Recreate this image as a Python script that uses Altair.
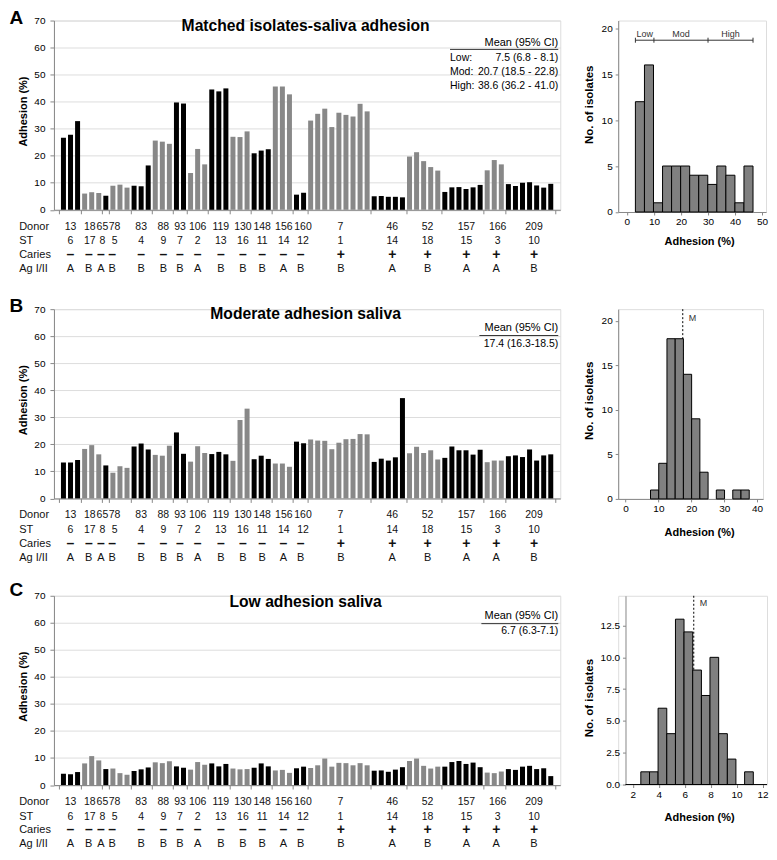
import altair as alt
import pandas as pd

# ---------------- data ----------------
donors = ["13", "18", "65", "78", "83", "88", "93", "106", "119", "130",
          "148", "156", "160", "7", "46", "52", "157", "166", "209"]
st_types = ["6", "17", "8", "5", "4", "9", "7", "2", "13", "16",
            "11", "14", "12", "1", "14", "18", "15", "3", "10"]
caries = ["–", "–", "–", "–", "–", "–", "–", "–", "–", "–",
          "–", "–", "–", "+", "+", "+", "+", "+", "+"]
antigen = ["A", "B", "A", "B", "B", "B", "B", "A", "B", "B",
           "B", "A", "B", "B", "A", "B", "A", "A", "B"]
group_sizes = [3, 3, 1, 3, 3, 3, 2, 3, 3, 3, 3, 3, 2, 9, 5, 5, 6, 3, 7]

adhesion_matched = [
    26.6, 27.8, 32.8, 6.0, 6.5, 6.2, 5.2, 8.9, 9.3, 8.2,
    8.9, 8.7, 16.4, 25.6, 25.2, 24.4, 39.7, 39.3, 13.6, 22.5, 16.8,
    44.5, 43.8, 44.9, 27.0, 26.9, 29.0, 20.9, 21.9, 22.4,
    45.6, 45.6, 42.7, 5.6, 6.3,
    33.0, 35.5, 37.4, 30.6, 35.9, 35.1, 34.5, 39.2, 36.4,
    5.0, 5.1, 4.8, 4.8, 4.6, 19.7, 21.3, 18.0, 15.8, 14.5,
    6.6, 8.3, 8.4, 7.7, 8.3, 9.2, 14.6, 18.4, 16.8,
    9.5, 8.8, 10.0, 10.2, 9.0, 8.2, 9.6]
adhesion_moderate = [
    13.3, 13.3, 14.2, 18.3, 19.7, 16.3, 12.2, 9.5, 11.9, 11.3,
    19.2, 20.3, 18.1, 16.1, 15.8, 19.5, 24.4, 16.5, 13.6, 19.3, 16.8,
    16.4, 17.2, 16.3, 13.9, 29.0, 33.2, 14.5, 15.8, 14.6,
    12.9, 12.9, 11.7, 21.0, 20.4,
    21.8, 21.4, 21.3, 18.2, 20.6, 21.9, 22.0, 23.8, 23.7,
    13.5, 14.7, 14.0, 15.2, 37.1, 16.7, 19.1, 16.8, 17.8, 14.4,
    15.0, 19.2, 17.8, 17.8, 16.2, 18.0, 13.4, 14.0, 14.0,
    15.6, 15.9, 15.3, 18.1, 14.0, 15.9, 16.3]
adhesion_low = [
    4.2, 4.0, 4.8, 8.0, 10.7, 9.1, 5.9, 6.1, 4.4, 3.8,
    5.2, 5.8, 6.5, 8.4, 8.1, 8.8, 6.9, 6.4, 5.7, 8.5, 7.5,
    8.0, 6.9, 7.8, 6.1, 5.8, 5.9, 6.4, 8.0, 6.9,
    5.4, 5.6, 4.5, 6.2, 6.8,
    6.3, 7.3, 9.8, 6.8, 8.2, 8.1, 7.3, 8.1, 7.3,
    5.3, 5.4, 4.9, 5.7, 6.6, 8.9, 9.8, 7.1, 6.1, 6.8,
    6.8, 8.5, 8.9, 7.8, 8.3, 6.6, 4.6, 4.4, 5.0,
    5.9, 5.6, 6.8, 7.1, 5.9, 6.2, 3.3]

y_ticks = [0, 10, 20, 30, 40, 50, 60, 70]

hist_matched_edges = [3.15, 6.50, 9.84, 13.19, 16.53, 19.88, 23.22, 26.57,
                      29.91, 33.26, 36.60, 39.95, 43.29, 46.64]
hist_matched_counts = [12, 16, 1, 5, 5, 5, 4, 4, 3, 5, 4, 1, 5]
hist_moderate_edges = [7.6, 10.1, 12.6, 15.1, 17.6, 20.1, 22.6, 25.1,
                       27.6, 30.1, 32.6, 35.1, 37.6]
hist_moderate_counts = [1, 4, 18, 18, 14, 9, 3, 0, 1, 0, 1, 1]
hist_low_edges = [2.62, 3.29, 3.95, 4.62, 5.29, 5.95, 6.62, 7.29,
                  7.95, 8.62, 9.29, 9.95, 10.62, 11.29]
hist_low_counts = [1, 1, 6, 4, 13, 12, 9, 7, 10, 4, 2, 0, 1]
mean_moderate = 17.4
mean_low = 6.7

range_edges = [3.15, 10.0, 30.0, 46.64]
range_labels = ["Low", "Mod", "High"]

table_matched_labels = ["Low:", "Mod:", "High:"]
table_matched_values = ["7.5 (6.8 - 8.1)", "20.7 (18.5 - 22.8)", "38.6 (36.2 - 41.0)"]
table_moderate_values = ["17.4 (16.3-18.5)"]
table_low_values = ["6.7 (6.3-7.1)"]

# ---------------- layout / style ----------------
FONT = "Liberation Sans"
BAR_W, BAR_H = 507, 189.5
X_LO, X_HI = -0.64, 69.64
PX_PER_BAR = BAR_W / (X_HI - X_LO)
DARK, LIGHT = "#000000", "#888888"
# small horizontal nudges (px) of the group labels, as set in the original figure
NUDGE_TOP = [0, -2, -3.5, -5.5, 0, 1, 0, 0, 2, 3, 1, 1.5, 3, 1.5, 4, 4, 4, 3.5, 4.5]
NUDGE_BOTTOM = [0, -3, -5, -8, 0, 1, 0, 0, 2, 3, 1, 1, 0.5, 2, 4, 4, 4, 2, 4.5]

starts = []
_s = 0
for _n in group_sizes:
    starts.append(_s)
    _s += _n
centers = [a + (n - 1) / 2 for a, n in zip(starts, group_sizes)]
bounds = [X_LO] + [a - 0.5 for a in starts[1:]] + [X_HI]

groups = pd.DataFrame({
    "top": [c + d / PX_PER_BAR for c, d in zip(centers, NUDGE_TOP)],
    "bottom": [c + d / PX_PER_BAR for c, d in zip(centers, NUDGE_BOTTOM)],
    "donor": donors, "st": st_types, "caries": caries, "ag": antigen})


def bar_frame(values):
    idx, shade = [], []
    for g, (a, n) in enumerate(zip(starts, group_sizes)):
        for k in range(n):
            idx.append(a + k)
            shade.append("dark" if g % 2 == 0 else "light")
    return pd.DataFrame({"idx": idx, "adh": values, "shade": shade})


def txt(text, x, y, **kw):
    return alt.Chart(pd.DataFrame({"t": [text]})).mark_text(**kw).encode(
        text="t:N", x=alt.value(x), y=alt.value(y))


def hline(x1, x2, y):
    return alt.Chart(pd.DataFrame({"a": [0]})).mark_rule(
        color="#000", strokeWidth=0.8).encode(
        x=alt.value(x1), x2=alt.value(x2), y=alt.value(y))


def bar_panel(values, title, letter, letter_y, title_y, table):
    xs = alt.Scale(domain=[X_LO, X_HI], nice=False, zero=False)
    xaxis = alt.Axis(values=bounds, labels=False, ticks=True, tickSize=4,
                     grid=False, title=None)
    bars = alt.Chart(bar_frame(values)).mark_bar(size=5).encode(
        x=alt.X("idx:Q", scale=xs, axis=xaxis),
        y=alt.Y("adh:Q", scale=alt.Scale(domain=[0, 70], nice=False),
                axis=alt.Axis(values=y_ticks, tickSize=4, labelPadding=5,
                              title="Adhesion (%)", titleAngle=270,
                              titleX=-27.6, titleY=90.6,
                              titleBaseline="alphabetic", titleAlign="center")),
        color=alt.Color("shade:N", scale=alt.Scale(domain=["dark", "light"],
                                                   range=[DARK, LIGHT]),
                        legend=None))
    layers = [bars]
    rows = [("Donor", "donor", "top", 16.8, 10.5, "normal"),
            ("ST", "st", "top", 31.6, 10.5, "normal"),
            ("Caries", "caries", "bottom", 45.4, 14, "bold"),
            ("Ag I/II", "ag", "bottom", 59.5, 11, "normal")]
    for label, field, pos, off, fs, fw in rows:
        layers.append(alt.Chart(groups).mark_text(
            font=FONT, fontSize=fs, fontWeight=fw, color="#111").encode(
            x=alt.X(f"{pos}:Q", scale=xs, axis=xaxis),
            y=alt.value(BAR_H + off), text=f"{field}:N"))
        layers.append(txt(label, -34.8, BAR_H + off, align="left", font=FONT,
                          fontSize=11, color="#111"))
    layers.append(txt(title, 252, title_y, fontSize=15.7, fontWeight="bold",
                      baseline="alphabetic", font=FONT))
    layers.append(txt(letter, -44.6, letter_y, fontSize=19, fontWeight="bold",
                      align="left", baseline="alphabetic", font=FONT))
    # mean table
    layers.append(txt("Mean (95% CI)", 505, table["header_y"], align="right",
                      baseline="alphabetic", fontSize=11, font=FONT))
    layers.append(hline(table["line_x"], 505, table["line_y"]))
    for i, v in enumerate(table["values"]):
        y = table["row_y"][i]
        layers.append(txt(v, 505, y, align="right", baseline="alphabetic",
                          fontSize=10.5, font=FONT))
        if table["labels"]:
            layers.append(txt(table["labels"][i], table["line_x"], y,
                              align="left", baseline="alphabetic",
                              fontSize=10.5, font=FONT))
    return alt.layer(*layers).properties(width=BAR_W, height=BAR_H)


def hist_panel(edges, counts, width, height, xdom, ydom, xticks, yticks, yfmt,
               ytitle_x, ytitle_y, xtitle_y, mean=None, mean_label_y=8,
               ranges=False, yaxis_offset=0, xline_start=None):
    df = pd.DataFrame({"x0": edges[:-1], "x1": edges[1:], "n": counts})
    df = df[df["n"] > 0]
    xs = alt.Scale(domain=xdom, nice=False, zero=False)
    ys = alt.Scale(domain=ydom, nice=False, zero=False)
    xaxis = alt.Axis(values=xticks, tickSize=3, labelPadding=2,
                     title="Adhesion (%)", titleX=81, titleY=xtitle_y,
                     titleBaseline="alphabetic", titleAlign="center",
                     domain=xline_start is None, grid=False)
    yaxis = alt.Axis(values=yticks, format=yfmt, tickSize=3, labelPadding=3,
                     offset=yaxis_offset, title="No. of isolates",
                     titleAngle=270, titleX=ytitle_x, titleY=ytitle_y,
                     titleBaseline="alphabetic", titleAlign="center",
                     titleFontSize=11.5, grid=False)
    layers = []
    if mean is not None:
        m = pd.DataFrame({"m": [mean], "t": ["M"]})
        layers.append(alt.Chart(m).mark_rule(
            color="#000", strokeWidth=1, strokeDash=[2, 2]).encode(
            x=alt.X("m:Q", scale=xs, axis=xaxis),
            y=alt.value(0), y2=alt.value(height)))
        layers.append(alt.Chart(m).mark_text(
            align="left", dx=6, fontSize=9, font=FONT, color="#333").encode(
            x=alt.X("m:Q", scale=xs, axis=xaxis), y=alt.value(mean_label_y),
            text="t:N"))
    layers.append(alt.Chart(df).mark_rect(
        fill="#808080", stroke="#000", strokeWidth=1).encode(
        x=alt.X("x0:Q", scale=xs, axis=xaxis), x2="x1:Q",
        y=alt.Y("n:Q", scale=ys, axis=yaxis), y2=alt.datum(0)))
    if xline_start is not None:
        layers.append(alt.Chart(pd.DataFrame({"a": [xline_start]})).mark_rule(
            color="#000", strokeWidth=1).encode(
            x=alt.X("a:Q", scale=xs, axis=xaxis), x2=alt.value(width),
            y=alt.value(height)))
    if ranges:
        e = pd.DataFrame({"e": range_edges})
        span = pd.DataFrame({"a": [range_edges[0]], "b": [range_edges[-1]]})
        mids = [(range_edges[i] + range_edges[i + 1]) / 2 for i in range(3)]
        labs = pd.DataFrame({"c": mids, "t": range_labels})
        layers.append(alt.Chart(span).mark_rule(color="#333", strokeWidth=1).encode(
            x=alt.X("a:Q", scale=xs, axis=xaxis), x2="b:Q", y=alt.value(19.7)))
        layers.append(alt.Chart(e).mark_rule(color="#333", strokeWidth=1).encode(
            x=alt.X("e:Q", scale=xs, axis=xaxis),
            y=alt.value(17.2), y2=alt.value(22.2)))
        layers.append(alt.Chart(labs).mark_text(
            fontSize=9, font=FONT, color="#333", baseline="alphabetic").encode(
            x=alt.X("c:Q", scale=xs, axis=xaxis), y=alt.value(16.5), text="t:N"))
    return alt.layer(*layers).properties(width=width, height=height)


barA = bar_panel(adhesion_matched, "Matched isolates-saliva adhesion", "A", 3.6, 10.9,
                 {"header_y": 25.2, "line_x": 396.6, "line_y": 28.9,
                  "row_y": [40.5, 54.3, 68.1], "values": table_matched_values,
                  "labels": table_matched_labels})
barB = bar_panel(adhesion_moderate, "Moderate adhesion saliva", "B", 3, 10,
                 {"header_y": 21.7, "line_x": 426, "line_y": 26.4,
                  "row_y": [38], "values": table_moderate_values,
                  "labels": None})
barC = bar_panel(adhesion_low, "Low adhesion saliva", "C", 0.5, 11,
                 {"header_y": 23, "line_x": 428, "line_y": 27.9,
                  "row_y": [38.3], "values": table_low_values,
                  "labels": None})

histA = hist_panel(hist_matched_edges, hist_matched_counts, 148, 191.7,
                   [-3.21, 51.44], [0, 20.83], [0, 10, 20, 30, 40, 50],
                   [0, 5, 10, 15, 20], "d", -25.7, 83.8, 33, ranges=True)
histB = hist_panel(hist_moderate_edges, hist_moderate_counts, 145, 190,
                   [-2.22, 41.79], [0, 21.32], [0, 10, 20, 30, 40],
                   [0, 5, 10, 15, 20], "d", -25.7, 91.3, 36.8,
                   mean=mean_moderate, mean_label_y=9)
histC = hist_panel(hist_low_edges, hist_low_counts, 149, 189,
                   [0.876, 12.346], [0, 14.84], [2, 4, 6, 8, 10, 12],
                   [0, 2.5, 5, 7.5, 10, 12.5], ".1f", -33, 102, 36,
                   mean=mean_low, mean_label_y=7.5, yaxis_offset=-7.3,
                   xline_start=1.44)

chart = alt.concat(
    barA, histA, barB, histB, barC, histC,
    columns=2, spacing={"row": 97, "column": 58}, bounds="flush",
    padding={"left": 0, "top": 0, "right": 0, "bottom": 0},
).configure_view(stroke="transparent").configure_axis(
    labelFont=FONT, titleFont=FONT, labelColor="#222", labelFontSize=12,
    titleFontSize=13, titleFontWeight="bold", titleColor="#000",
    domainColor="#000", tickColor="#000", domainWidth=1, tickWidth=1,
    grid=False
).configure(font=FONT, background="white")

chart.save("out.html", embed_options={"renderer": "svg", "actions": False})
